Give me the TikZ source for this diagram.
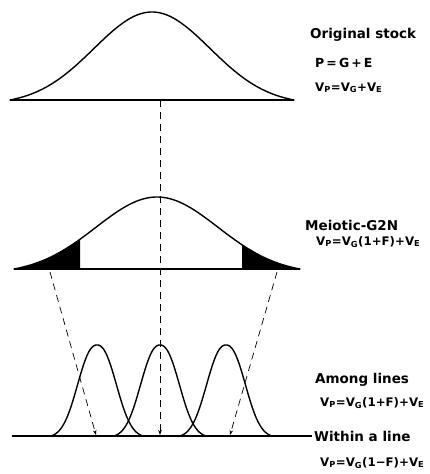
\documentclass[tikz,border=0pt]{standalone}
\usepackage{fontspec}
\setmainfont{DejaVu Sans}
\usetikzlibrary{arrows.meta}
\begin{document}
\begin{tikzpicture}[x=1pt,y=-1pt,
  declare function={
    gtop(\x)=100-88*(exp(-0.5*((\x-152)/58)^2)-0.05)/0.95;
    gmid(\x)=269-72*(exp(-0.5*((\x-157)/61)^2)-0.064)/0.936;
    gsm(\x,\c)=436-91*(exp(-(abs(\x-\c)/25)^2.3)-0.017)/0.983;
  },
  curve/.style={line width=1.4pt, line join=round, line cap=round},
  baseln/.style={line width=1.4pt},
  guide/.style={line width=0.7pt, dash pattern=on 7pt off 5pt, -{Stealth[length=5pt,width=3.5pt]}},
  lbl/.style={anchor=base west, inner sep=0pt, font=\bfseries\fontsize{13.5}{13.5}\selectfont},
  eq/.style={anchor=base west, inner sep=0pt, font=\bfseries\fontsize{11.8}{12}\selectfont}]
\useasboundingbox (0,0) rectangle (430,474);

% top distribution
\draw[baseln] (10,100) -- (294,100);
\draw[curve] plot[domain=10:294, samples=120] (\x,{gtop(\x)});

% middle distribution
\fill plot[domain=14:80, samples=40] (\x,{gmid(\x)}) -- (80,269) -- cycle;
\fill (242,269) -- plot[domain=242:300, samples=40] (\x,{gmid(\x)}) -- cycle;
\draw[baseln] (14,269) -- (300,269);
\draw[curve] plot[domain=14:300, samples=120] (\x,{gmid(\x)});

% bottom lines
\draw[baseln] (12,436) -- (312,436);
\foreach \c in {97,160,226}
  \draw[curve] plot[domain=\c-46:\c+46, samples=90] (\x,{gsm(\x,\c)});

% guides
\coordinate (topC) at (160,100);
\coordinate (botC) at (160,435);
\coordinate (midL) at (50,272);
\coordinate (botL) at (96,435);
\coordinate (midR) at (277,272);
\coordinate (botR) at (230,435);
\draw[guide] (topC) -- (botC);
\draw[guide] (midL) -- (botL);
\draw[guide] (midR) -- (botR);

% labels
\node[lbl] (orig) at (310,38) {Original stock};
\node[eq, font=\bfseries\fontsize{12.5}{12.5}\selectfont] (pge) at (315,67) {P\,=\,G\,+\,E};
\node[eq] (v1) at (315,91) {V\textsubscript{P}=V\textsubscript{G}+V\textsubscript{E}};
\node[lbl] (meio) at (305,230) {Meiotic-G2N};
\node[eq] (v2) at (316,245) {V\textsubscript{P}=V\textsubscript{G}(1+F)+V\textsubscript{E}};
\node[lbl] (among) at (315,383) {Among lines};
\node[eq] (v3) at (320,406) {V\textsubscript{P}=V\textsubscript{G}(1+F)+V\textsubscript{E}};
\node[lbl] (within) at (314,441) {Within a line};
\node[eq] (v4) at (320,466) {V\textsubscript{P}=V\textsubscript{G}(1−F)+V\textsubscript{E}};
\end{tikzpicture}
\end{document}
